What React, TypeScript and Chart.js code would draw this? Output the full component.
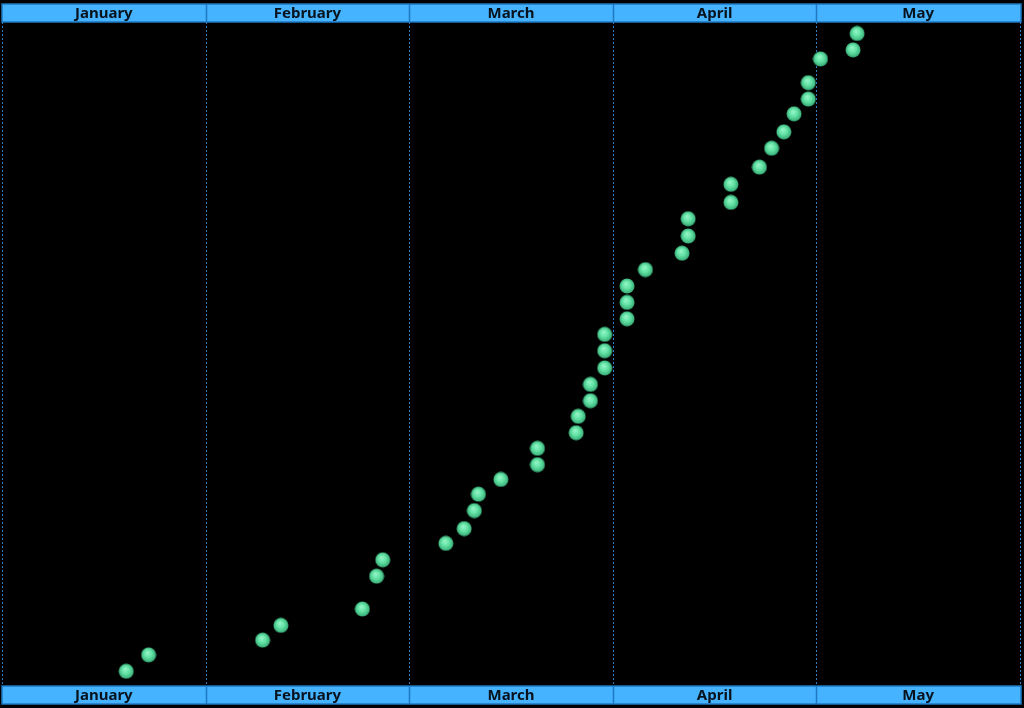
import React, { useEffect, useRef } from 'react';
import { Chart, registerables } from 'chart.js';

Chart.register(...registerables);

// month bands across the top and bottom
const months = ['January', 'February', 'March', 'April', 'May'];

// x position in months (0 = start of January)
const xValues = [
  0.61, 0.72, 1.28, 1.37, 1.77, 1.84, 1.87, 2.18, 2.27, 2.32,
  2.34, 2.45, 2.63, 2.63, 2.82, 2.83, 2.89, 2.89, 2.96, 2.96,
  2.96, 3.07, 3.07, 3.07, 3.16, 3.34, 3.37, 3.37, 3.58, 3.58,
  3.72, 3.78, 3.84, 3.89, 3.96, 3.96, 4.02, 4.18, 4.2,
];

// cumulative count for each point
const yValues = [
  0.9, 1.9, 2.8, 3.7, 4.7, 6.7, 7.7, 8.7, 9.6, 10.7,
  11.7, 12.6, 13.5, 14.5, 15.45, 16.45, 17.4, 18.4, 19.4, 20.45,
  21.45, 22.4, 23.4, 24.4, 25.4, 26.4, 27.45, 28.5, 29.5, 30.6,
  31.65, 32.8, 33.8, 34.9, 35.8, 36.8, 38.25, 38.8, 39.8,
];

const BAND = '#45b3ff';
const BAND_EDGE = '#1f78c0';
const GRID = '#2b7fc0';

function makeSphere(size: number): HTMLCanvasElement {
  const c = document.createElement('canvas');
  c.width = size;
  c.height = size;
  const ctx = c.getContext('2d')!;
  const r = size / 2;
  const g = ctx.createRadialGradient(r * 0.85, r * 0.7, 0, r, r, r);
  g.addColorStop(0, '#9af7cb');
  g.addColorStop(0.5, '#62e2a4');
  g.addColorStop(1, '#33a672');
  ctx.fillStyle = g;
  ctx.beginPath();
  ctx.arc(r, r, r - 0.5, 0, Math.PI * 2);
  ctx.fill();
  return c;
}

const bandsPlugin = {
  id: 'monthBands',
  beforeDraw(chart: Chart) {
    const { ctx, chartArea, scales } = chart;
    const x = scales.x;
    ctx.save();
    ctx.fillStyle = '#000000';
    ctx.fillRect(0, 0, chart.width, chart.height);

    // dotted month dividers
    ctx.strokeStyle = GRID;
    ctx.lineWidth = 1;
    ctx.setLineDash([2, 2]);
    for (let i = 0; i <= months.length; i++) {
      const px = Math.round(x.getPixelForValue(i)) + 0.5;
      ctx.beginPath();
      ctx.moveTo(px, chartArea.top);
      ctx.lineTo(px, chartArea.bottom);
      ctx.stroke();
    }
    ctx.setLineDash([]);

    const bands = [
      [chartArea.top - 18, chartArea.top],
      [chartArea.bottom, chartArea.bottom + 18],
    ];
    const left = x.getPixelForValue(0);
    const right = x.getPixelForValue(months.length) + 1;
    ctx.font = 'bold 15px "Noto Sans", sans-serif';
    ctx.textAlign = 'center';
    ctx.textBaseline = 'middle';
    bands.forEach(([top, bottom]) => {
      ctx.fillStyle = BAND;
      ctx.fillRect(left, top, right - left, bottom - top);
      ctx.strokeStyle = BAND_EDGE;
      ctx.lineWidth = 1.5;
      ctx.strokeRect(left, top, right - left, bottom - top);
      for (let i = 1; i < months.length; i++) {
        const px = Math.round(x.getPixelForValue(i)) + 0.5;
        ctx.beginPath();
        ctx.moveTo(px, top);
        ctx.lineTo(px, bottom);
        ctx.stroke();
      }
      ctx.fillStyle = '#08121c';
      months.forEach((m, i) => {
        ctx.fillText(m, x.getPixelForValue(i + 0.5), (top + bottom) / 2 + 1);
      });
    });
    ctx.restore();
  },
};

export default function App() {
  const canvasRef = useRef<HTMLCanvasElement>(null);

  useEffect(() => {
    if (!canvasRef.current) return;
    const sphere = makeSphere(16);
    const chart = new Chart(canvasRef.current, {
      type: 'scatter',
      data: {
        datasets: [{
          data: xValues.map((x, i) => ({ x, y: yValues[i] })),
          pointStyle: sphere,
          pointRadius: 8,
        }],
      },
      options: {
        animation: false,
        responsive: true,
        maintainAspectRatio: false,
        layout: { autoPadding: false, padding: { left: 2, right: 4, top: 22, bottom: 22 } },
        plugins: {
          legend: { display: false },
          tooltip: { enabled: false },
        },
        scales: {
          x: { type: 'linear', min: 0, max: 5, display: false },
          y: { type: 'linear', min: 0, max: 40.5, display: false },
        },
      },
      plugins: [bandsPlugin],
    });
    return () => chart.destroy();
  }, []);

  return (
    <div style={{ position: 'fixed', left: 0, top: 0, width: 1024, height: 708, background: '#000' }}>
      <canvas ref={canvasRef}></canvas>
    </div>
  );
}
